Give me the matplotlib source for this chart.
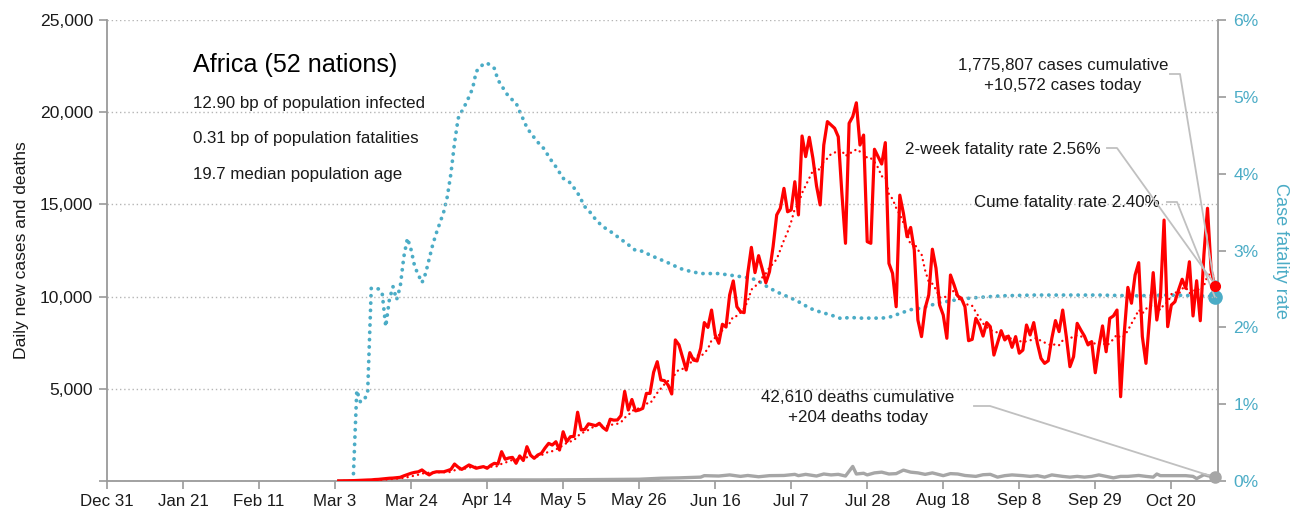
import numpy as np
import pandas as pd
import matplotlib
matplotlib.use("Agg")
import matplotlib.pyplot as plt
from matplotlib import font_manager as fm

# ---------------- data ----------------
tick_days = [0, 21, 42, 63, 84, 105, 126, 147, 168, 189, 210, 231, 252, 273, 294]
tick_labels = ["Dec 31", "Jan 21", "Feb 11", "Mar 3", "Mar 24", "Apr 14", "May 5",
               "May 26", "Jun 16", "Jul 7", "Jul 28", "Aug 18", "Sep 8", "Sep 29", "Oct 20"]

cases_start_day = 64  # Mar 4 (day 0 = Dec 31)
daily_cases = [
    5, 8, 10, 15, 20, 30,
    40, 50, 55, 60, 80, 90, 110, 130, 150, 160,
    180, 200, 280, 350, 420, 470, 500, 600, 450, 330,
    450, 500, 500, 500, 560, 630, 920, 750, 630, 750,
    870, 780, 690, 740, 780, 690, 850, 960, 920, 1590,
    1180, 1250, 1280, 960, 1360, 1110, 1860, 1400, 1230, 1410,
    1500, 1790, 2040, 1950, 2130, 1680, 2670, 2130, 2400, 2420,
    3730, 2770, 2800, 3100, 3050, 3000, 3130, 2900, 2750, 3350,
    3300, 3310, 3550, 4860, 3850, 4420, 3800, 3850, 3940, 4750,
    4750, 5900, 6470, 5480, 5440, 5200, 4720, 7650, 7380, 6700,
    6020, 6960, 6560, 6510, 7200, 8590, 8330, 9270, 7920, 7470,
    8500, 8350, 10090, 10850, 9450, 9180, 9130, 11260, 12670, 11300,
    12220, 11500, 10750, 11350, 12710, 14430, 14790, 15870, 14600, 14700,
    16230, 14430, 18710, 17590, 18640, 17500, 16000, 14970, 18220, 19490,
    19310, 19130, 18670, 15600, 12890, 19400, 19760, 20510, 18220, 18760,
    12980, 12890, 17990, 17590, 17190, 18350, 11800, 11260, 9450, 15500,
    14520, 13250, 13750, 12530, 8730, 7830, 9370, 10090, 12570, 11540,
    9540, 9000, 7740, 11170, 10630, 10030, 9910, 9450, 7610, 7680,
    8820, 8460, 7860, 8590, 8370, 6830, 7500, 8150, 7650, 7860,
    7250, 7830, 6930, 7100, 8460, 7920, 8590, 7470, 6650, 6380,
    6520, 7740, 8700, 8100, 9270, 7830, 6200, 6740, 8550, 8190,
    7860, 7380, 7560, 5870, 7280, 8410, 7010, 8820, 8950, 9270,
    4570, 8010, 10500, 9640, 11170, 11840, 7830, 6380, 8820, 11300,
    8730, 9990, 14150, 8370, 9540, 9720, 10360, 10940, 10450, 11890,
    8950, 10860, 8690, 12260, 14790, 11440, 10572,
]

death_days = [64, 70, 80, 90, 100, 110, 120, 130, 140, 147, 153, 158, 164, 165, 169, 172,
              175, 177, 180, 183, 187, 190, 191, 193, 196, 198, 200, 202, 204, 206, 207,
              209, 210, 212, 214, 216, 218, 220, 222, 224, 226, 228, 231, 233, 235, 237,
              240, 242, 244, 246, 248, 250, 253, 255, 257, 259, 261, 264, 266, 268, 270,
              272, 274, 276, 278, 280, 282, 285, 287, 289, 290, 291, 293, 295, 298, 300,
              301, 303, 304, 306]
daily_deaths = [0, 2, 10, 30, 50, 60, 60, 70, 85, 96, 150, 170, 210, 290, 270, 330,
                250, 300, 230, 290, 300, 360, 290, 360, 270, 380, 330, 360, 270, 790, 380,
                420, 330, 440, 480, 380, 400, 590, 480, 440, 360, 440, 290, 400, 380, 300,
                250, 340, 360, 210, 290, 330, 290, 250, 290, 210, 330, 250, 210, 250, 210,
                250, 330, 250, 170, 250, 250, 300, 250, 210, 380, 290, 290, 290, 290, 250,
                130, 340, 290, 204]

cfr_days = [68, 69, 70, 71, 72, 73, 75, 76, 77, 78, 79, 80, 81, 82, 83, 84, 85, 87, 88,
            90, 91, 93, 94, 95, 96, 97, 99, 100, 101, 102, 104, 105, 107, 108, 110, 111,
            113, 114, 116, 117, 119, 121, 122, 124, 126, 128, 130, 132, 134, 135, 137,
            139, 141, 143, 145, 146, 148, 150, 153, 156, 158, 161, 164, 167, 169, 172,
            175, 178, 180, 183, 186, 189, 192, 194, 197, 200, 203, 205, 208, 211, 214,
            216, 219, 222, 225, 227, 230, 236, 241, 247, 256, 265, 274, 284, 293, 302, 306]
cfr_pct = [0.0, 1.18, 1.03, 1.05, 1.15, 2.51, 2.50, 2.45, 2.01, 2.36, 2.53, 2.36, 2.53,
           2.92, 3.16, 3.01, 2.79, 2.58, 2.70, 3.08, 3.23, 3.50, 3.70, 4.00, 4.40, 4.72,
           4.90, 5.00, 5.11, 5.33, 5.43, 5.44, 5.37, 5.22, 5.07, 5.00, 4.92, 4.81, 4.60,
           4.53, 4.41, 4.31, 4.22, 4.09, 3.94, 3.88, 3.75, 3.57, 3.47, 3.40, 3.31, 3.25,
           3.18, 3.11, 3.04, 3.00, 2.99, 2.94, 2.88, 2.82, 2.77, 2.73, 2.70, 2.70, 2.70,
           2.68, 2.66, 2.64, 2.60, 2.51, 2.44, 2.38, 2.31, 2.25, 2.20, 2.16, 2.11, 2.13,
           2.12, 2.12, 2.12, 2.13, 2.18, 2.23, 2.25, 2.28, 2.32, 2.37, 2.39, 2.41, 2.42,
           2.42, 2.42, 2.41, 2.42, 2.41, 2.40]

two_week_cfr = 2.56
region_title = "Africa (52 nations)"
stats_lines = ["12.90 bp of population infected",
               "0.31 bp of population fatalities",
               "19.7 median population age"]
cum_cases = "1,775,807"
cum_deaths = "42,610"

# ---------------- fonts ----------------
names = {f.name for f in fm.fontManager.ttflist}
if "Liberation Sans Narrow" in names:
    FONT = ["Liberation Sans Narrow", "DejaVu Sans"]
    k = 1.0
else:
    FONT = ["Liberation Sans", "DejaVu Sans"]
    k = 0.84
plt.rcParams["font.family"] = FONT

TXT = "#1a1a1a"
CYAN = "#4bacc6"
RED = "#ff0000"
GRAY = "#a6a6a6"
SPINE = "#9a9a9a"
LEAD = "#c0c0c0"

# ---------------- figure ----------------
fig = plt.figure(figsize=(12.92, 5.20), dpi=100)
ax = fig.add_axes([107 / 1292, 1 - 481 / 520, (1218 - 107) / 1292, (481 - 20) / 520])
ax2 = ax.twinx()
ax.set_zorder(ax2.get_zorder() + 1)
ax.patch.set_visible(False)

days = np.arange(cases_start_day, cases_start_day + len(daily_cases))
cases = pd.Series(daily_cases, index=days, dtype=float)
trend = cases.rolling(7, min_periods=1).mean()

ax.plot(death_days, daily_deaths, color=GRAY, lw=2.4, zorder=2, solid_joinstyle="round")
ax.plot(trend.index, trend.values, color=RED, lw=1.7, ls=(0, (0.05, 2.2)),
        dash_capstyle="round", zorder=3)
ax.plot(days, cases.values, color=RED, lw=2.3, zorder=4, solid_joinstyle="round")

ax2.plot(cfr_days, cfr_pct, color=CYAN, lw=2.7, ls=(0, (0.05, 1.9)),
         dash_capstyle="round", zorder=2)

last_day = days[-1]
ax.plot([last_day], [daily_cases[-1]], "o", color=RED, ms=7, zorder=6, clip_on=False)
ax.plot([death_days[-1]], [daily_deaths[-1]], "o", color=GRAY, ms=8, zorder=6, clip_on=False)
ax2.plot([cfr_days[-1]], [two_week_cfr], "o", color=CYAN, ms=5, zorder=5, clip_on=False)
ax2.plot([cfr_days[-1]], [cfr_pct[-1]], "o", color=CYAN, ms=9.5, zorder=5, clip_on=False)

XMAX = 306.9
ax.set_xlim(0, XMAX)
ax.set_ylim(0, 25000)
ax2.set_ylim(0, 6)

ax.set_xticks(tick_days)
ax.set_xticklabels(tick_labels)
yt = [5000, 10000, 15000, 20000, 25000]
ax.set_yticks([0] + yt)
ax.set_yticklabels([""] + [f"{v:,}" for v in yt])
ax2.set_yticks(range(0, 7))
ax2.set_yticklabels([f"{v}%" for v in range(0, 7)])

ax.yaxis.grid(True, ls=(0, (1, 2)), color="#b5b5b5", lw=1.0)
ax.set_axisbelow(True)

for a in (ax, ax2):
    a.spines["top"].set_visible(False)
    for s in ("left", "right", "bottom"):
        a.spines[s].set_color(SPINE)
        a.spines[s].set_linewidth(1.3)
ax.spines["right"].set_visible(False)
ax2.spines["left"].set_visible(False)
ax2.spines["bottom"].set_visible(False)

ax.tick_params(axis="x", length=6, color=SPINE, width=1.2, labelsize=14.5 * k,
               labelcolor=TXT, pad=3)
ax.tick_params(axis="y", length=6, color=SPINE, width=1.2, labelsize=15 * k,
               labelcolor=TXT, pad=4)
ax2.tick_params(axis="y", length=6, color=SPINE, width=1.2, labelsize=15 * k,
                labelcolor=CYAN, pad=5)

ax.set_ylabel("Daily new cases and deaths", fontsize=15 * k, color=TXT, labelpad=8)
ax2.set_ylabel("Case fatality rate", fontsize=15.5 * k, color=CYAN, rotation=270,
               labelpad=22)

# ---------------- texts ----------------
def px2data(xp, yp):
    """figure pixel (from top-left) -> data coords of ax"""
    disp = (xp, 520 - yp)
    return ax.transData.inverted().transform(disp)

fig.canvas.draw()

x0, y0 = px2data(193, 65)
ax.text(x0, y0, region_title, fontsize=21.5 * k, color="black", va="center", ha="left")
for i, line in enumerate(stats_lines):
    xs, ys = px2data(193, 103 + 36 * i)
    ax.text(xs, ys, line, fontsize=14.5 * k, color=TXT, va="center", ha="left")

fs = 14.5 * k
xc, yc = px2data(1063, 75.5)
ax.text(xc, yc, f"{cum_cases} cases cumulative\n+{daily_cases[-1]:,} cases today",
        fontsize=fs, color=TXT, ha="center", va="center", linespacing=1.45)
xr, yr = px2data(1101, 149)
ax.text(xr, yr, f"2-week fatality rate {two_week_cfr:.2f}%", fontsize=fs, color=TXT,
        ha="right", va="center")
xr2, yr2 = px2data(1160, 203)
ax.text(xr2, yr2, f"Cume fatality rate {cfr_pct[-1]:.2f}%", fontsize=fs, color=TXT,
        ha="right", va="center")
xd, yd = px2data(858, 407.5)
ax.text(xd, yd, f"{cum_deaths} deaths cumulative\n+{daily_deaths[-1]} deaths today",
        fontsize=fs, color=TXT, ha="center", va="center", linespacing=1.45)

# leader lines
def leader(p_start, p_knee, end_xy):
    a = px2data(*p_start)
    b = px2data(*p_knee)
    ax.plot([a[0], b[0], end_xy[0]], [a[1], b[1], end_xy[1]], color=LEAD, lw=1.3,
            zorder=5, clip_on=False)

to_left = 25000 / 6.0
leader((1170, 74), (1180, 74), (last_day, daily_cases[-1]))
leader((1107, 148), (1117, 148), (cfr_days[-1], two_week_cfr * to_left))
leader((1167, 202), (1177, 202), (cfr_days[-1], cfr_pct[-1] * to_left))
leader((974, 406), (990, 406), (death_days[-1], daily_deaths[-1]))

fig.savefig("out.png", dpi=100)
